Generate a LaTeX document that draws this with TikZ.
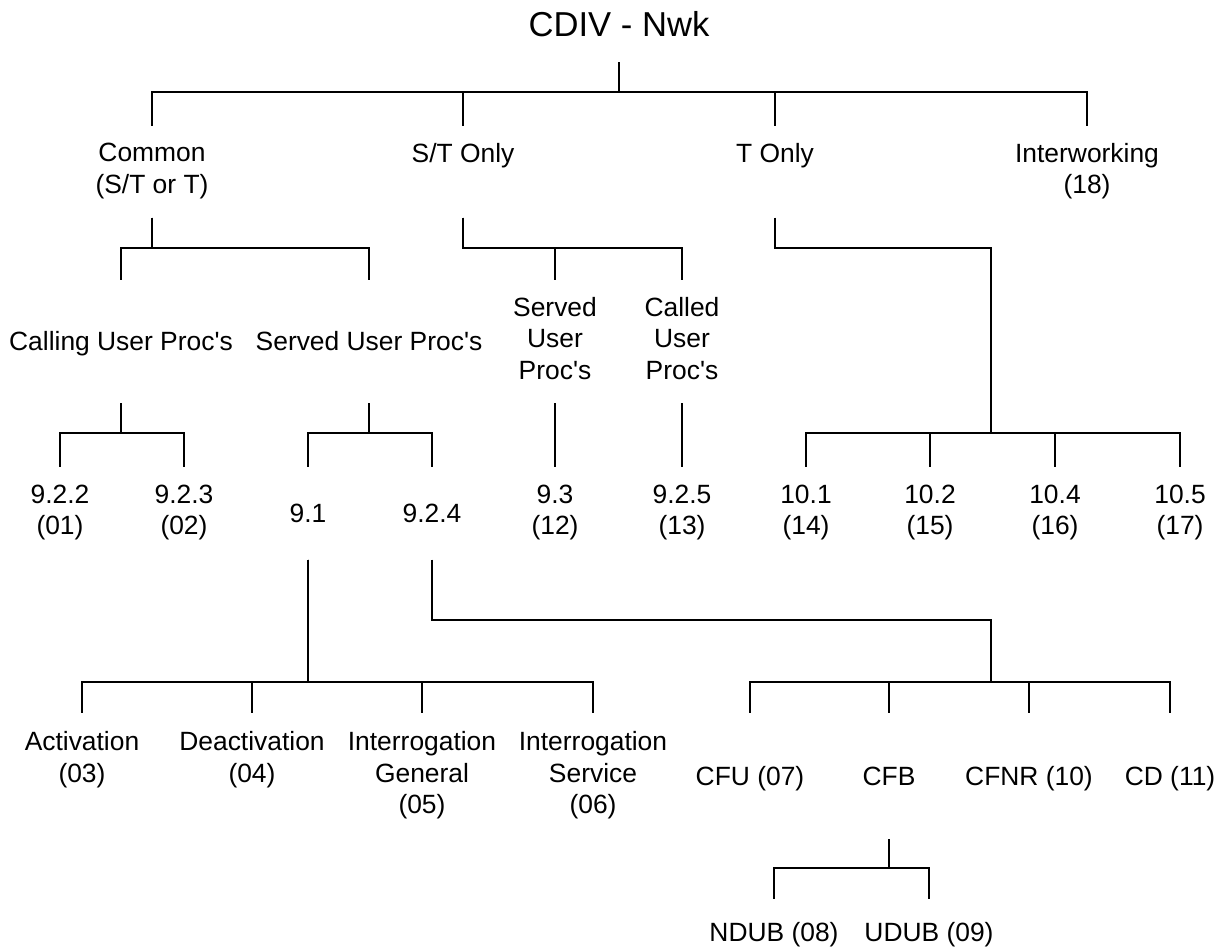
\documentclass[tikz,border=0pt]{standalone}
\usepackage{fontspec}
\setmainfont{Liberation Sans}
\newcommand{\lstrut}{\rule[-3.15pt]{0pt}{15.75pt}}

\begin{document}
\begin{tikzpicture}
  [x=0.5pt,y=-0.5pt,line width=1.1pt,
   lbl/.style={font=\fontsize{13.2}{15.75}\selectfont,align=center,inner sep=0pt,outer sep=0pt,
     execute at begin node=\lstrut,execute at end node=\lstrut},
   tierA/.style={lbl,minimum height=46pt},
   tierB/.style={lbl,minimum height=61.5pt},
   tierC/.style={lbl,minimum height=46.5pt},
   tierD/.style={lbl,minimum height=63pt},
   tierE/.style={lbl,minimum height=33pt}]
  \useasboundingbox (0,0) rectangle (1221,948);

  \node (root)[lbl,font=\fontsize{17.3}{20}\selectfont,minimum height=35pt] at (619,27) {CDIV - Nwk};

  \node (common)[tierA] at (152,171.5)  {Common\\(S/T or T)};
  \node (stonly)[tierA] at (463,171.5)  {S/T Only\\};
  \node (tonly)[tierA] at (775,171.5)   {T Only\\};
  \node (interw)[tierA] at (1087,171.5) {Interworking\\(18)};

  \node (calling)[tierB] at (121,341.5) {Calling User Proc\textquotesingle s};
  \node (servedA)[tierB] at (369,341.5) {Served User Proc\textquotesingle s};
  \node (servedB)[tierB] at (555,341.5) {Served\\User\\Proc\textquotesingle s};
  \node (called)[tierB] at (682,341.5)  {Called\\User\\Proc\textquotesingle s};

  \node (s922)[tierC] at (60,513)   {9.2.2\\(01)};
  \node (s923)[tierC] at (184,513)  {9.2.3\\(02)};
  \node (s91)[tierC] at (308,513)   {9.1};
  \node (s924)[tierC] at (432,513)  {9.2.4};
  \node (s93)[tierC] at (555,513)   {9.3\\(12)};
  \node (s925)[tierC] at (682,513)  {9.2.5\\(13)};
  \node (s101)[tierC] at (806,513)  {10.1\\(14)};
  \node (s102)[tierC] at (930,513)  {10.2\\(15)};
  \node (s104)[tierC] at (1055,513) {10.4\\(16)};
  \node (s105)[tierC] at (1180,513) {10.5\\(17)};

  \node (act)[tierD] at (82,776)    {Activation\\(03)\\};
  \node (deact)[tierD] at (252,776) {Deactivation\\(04)\\};
  \node (igen)[tierD] at (422,776)  {Interrogation\\General\\(05)};
  \node (iserv)[tierD] at (593,776) {Interrogation\\Service\\(06)};
  \node (cfu)[tierD] at (750,776)   {CFU (07)};
  \node (cfb)[tierD] at (889,776)   {CFB};
  \node (cfnr)[tierD] at (1029,776) {CFNR (10)};
  \node (cd)[tierD] at (1170,776)   {CD (11)};

  \node (ndub)[tierE] at (774,932) {NDUB (08)};
  \node (udub)[tierE] at (929,932) {UDUB (09)};

  \coordinate (bus0) at (0,92);
  \coordinate (bus1) at (0,248);
  \coordinate (bus2) at (0,433);
  \coordinate (bus3) at (0,682);
  \coordinate (bus4) at (0,868);
  \coordinate (tjoin) at (991,248);
  \coordinate (cfjoin) at (991,620);

  \foreach \from/\to/\bus in {root/common/bus0,root/stonly/bus0,root/tonly/bus0,root/interw/bus0,
      common/calling/bus1,common/servedA/bus1,stonly/servedB/bus1,stonly/called/bus1,
      calling/s922/bus2,calling/s923/bus2,servedA/s91/bus2,servedA/s924/bus2,
      servedB/s93/bus2,called/s925/bus2,
      s91/act/bus3,s91/deact/bus3,s91/igen/bus3,s91/iserv/bus3,
      cfb/ndub/bus4,cfb/udub/bus4}
    \draw (\from.south) |- (\from |- \bus) -| (\to.north);

  \draw (tonly.south) |- (tjoin) -- (tjoin |- bus2);
  \foreach \to in {s101,s102,s104,s105}
    \draw (tjoin |- bus2) -| (\to.north);

  \draw (s924.south) |- (cfjoin) -- (cfjoin |- bus3);
  \foreach \to in {cfu,cfb,cfnr,cd}
    \draw (cfjoin |- bus3) -| (\to.north);

\end{tikzpicture}
\end{document}
